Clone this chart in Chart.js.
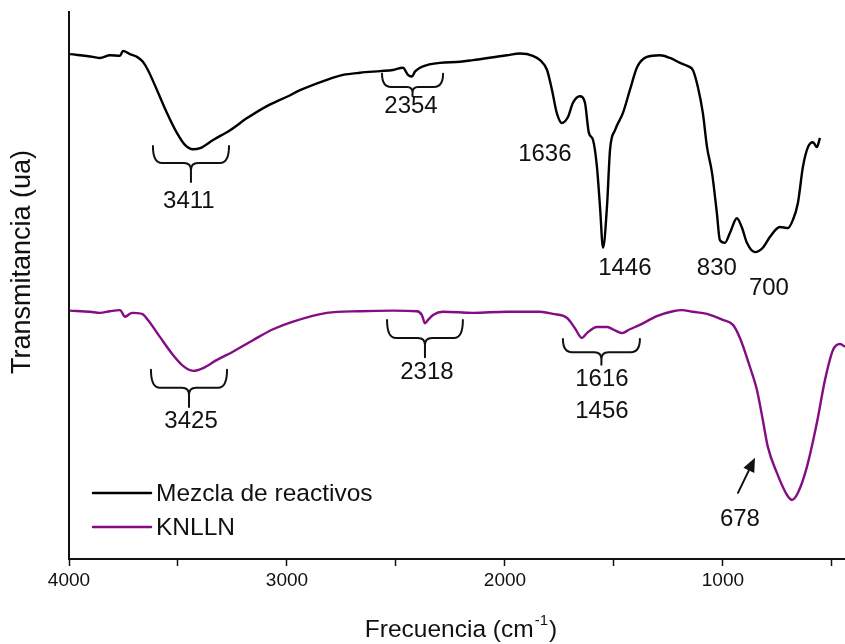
<!DOCTYPE html>
<html>
<head>
<meta charset="utf-8">
<script src="https://cdn.jsdelivr.net/npm/chart.js@4.4.1/dist/chart.umd.min.js"></script>
<style>
  html, body { margin: 0; padding: 0; background: #fff; }
  #wrap { width: 845px; height: 644px; position: relative; }
</style>
</head>
<body>
<div id="wrap"><canvas id="c"></canvas></div>
<script>
// FTIR spectra: wavenumber (cm^-1) and transmittance (arbitrary units)
const mezclaWn = [3995,3890,3858,3812,3766,3752,3720,3688,3661,3638,3596,3550,3505,3468,3431,3399,3339,3261,3183,3092,3000,2940,2817,2743,2665,2573,2514,2468,2445,2427,2413,2390,2358,2298,2206,2147,1991,1931,1872,1839,1807,1784,1762,1739,1711,1688,1656,1633,1615,1596,1578,1564,1550,1532,1518,1495,1459,1427,1394,1349,1289,1243,1197,1161,1138,1115,1092,1073,1050,1028,1014,991,968,936,913,890,853,817,784,739,702,679,656,633,610,587,569,555];
const mezclaT = [92.3,91.8,91.6,92.1,92.0,92.9,92.3,91.8,90.9,89.4,85.7,81.5,77.9,75.7,74.9,75.1,76.6,78.4,80.6,82.8,84.5,85.7,87.6,88.5,88.9,89.2,89.4,89.8,88.5,88.2,89.1,89.8,90.3,90.7,90.9,91.2,92.1,92.4,92.0,91.2,89.4,85.7,81.5,79.7,80.8,83.4,84.6,83.4,77.9,76.6,71.7,64.4,56.9,64.4,74.8,78.4,81.5,85.7,89.9,91.8,92.1,91.6,90.7,90.1,89.4,86.3,81.5,75.3,70.6,63.3,58.3,57.8,59.6,62.3,60.6,57.8,56.1,56.9,58.9,60.7,60.5,62.0,65.1,71.7,75.3,76.2,75.3,77.0];

const knllnWn = [3995,3904,3858,3812,3766,3743,3711,3665,3638,3583,3523,3477,3431,3385,3321,3248,3156,3064,2972,2817,2665,2514,2404,2381,2367,2353,2330,2284,2147,1991,1839,1780,1716,1679,1647,1624,1578,1532,1505,1463,1427,1381,1303,1229,1188,1138,1073,1000,954,922,876,844,817,794,752,706,683,656,615,569,532,495,463,440];
const knllnT = [45.4,45.2,45.0,45.3,45.5,44.3,45.0,44.8,43.7,40.6,37.3,35.3,34.4,34.9,36.4,37.9,40.0,42.0,43.4,45.0,45.3,45.4,45.3,44.6,43.1,43.7,44.6,45.2,45.0,45.2,45.2,44.8,44.1,42.2,40.4,41.3,42.4,42.4,42.0,41.3,42.0,42.8,44.4,45.3,45.5,45.2,44.8,43.7,42.8,40.4,35.1,30.9,25.4,20.5,15.7,11.7,10.8,12.1,16.8,24.9,32.7,38.2,39.3,38.8];

const seriesNames = ['Mezcla de reactivos', 'KNLLN'];
const xTickValues = [4000,3500,3000,2500,2000,1500,1000,500];
const xTickLabels = ['4000','','3000','','2000','','1000',''];

// Band assignments written next to the spectra
const bandLabels = [
  { text: '3411', wn: 3450, t: 65.3 },
  { text: '2354', wn: 2431, t: 82.8 },
  { text: '1636', wn: 1817, t: 73.9 },
  { text: '1446', wn: 1450, t: 53.2 },
  { text: '830',  wn: 1028, t: 53.2 },
  { text: '700',  wn: 789,  t: 49.5 },
  { text: '3425', wn: 3440, t: 25.2 },
  { text: '2318', wn: 2358, t: 34.2 },
  { text: '1616', wn: 1555, t: 32.9 },
  { text: '1456', wn: 1555, t: 26.9 },
  { text: '678',  wn: 922,  t: 7.3 }
];
// Curly brackets grouping a band region: ends, bar level and point
const brackets = [
  { from: 3615, to: 3266, top: 75.5, bar: 72.4, tip: 68.9 },
  { from: 2564, to: 2284, top: 88.7, bar: 86.3, tip: 84.6 },
  { from: 3624, to: 3275, top: 34.6, bar: 31.3, tip: 27.8 },
  { from: 2541, to: 2193, top: 43.7, bar: 40.4, tip: 36.9 },
  { from: 1734, to: 1381, top: 40.2, bar: 37.8, tip: 35.5 }
];
const arrow678 = { fromWn: 931, fromT: 12.1, toWn: 853, toT: 18.5 };

const FONT = "'Liberation Sans', Arial, Helvetica, sans-serif";
const INK = '#111111';

const decorations = {
  id: 'decorations',
  afterDraw(chart) {
    const { ctx, scales: { x, y }, chartArea } = chart;
    ctx.save();

    // curly brackets
    ctx.strokeStyle = INK;
    ctx.lineWidth = 2;
    ctx.lineCap = 'round';
    brackets.forEach(b => {
      const x1 = x.getPixelForValue(b.from), x2 = x.getPixelForValue(b.to);
      const xm = (x1 + x2) / 2;
      const yt = y.getPixelForValue(b.top), yb = y.getPixelForValue(b.bar), yp = y.getPixelForValue(b.tip);
      const r = Math.min(9, yb - yt);
      const r2 = Math.min(7, (yp - yb) * 0.6);
      ctx.beginPath();
      ctx.moveTo(x1, yt);
      ctx.quadraticCurveTo(x1, yb, x1 + r, yb);
      ctx.lineTo(xm - r2, yb);
      ctx.quadraticCurveTo(xm, yb, xm, yb + r2);
      ctx.lineTo(xm, yp);
      ctx.moveTo(x2, yt);
      ctx.quadraticCurveTo(x2, yb, x2 - r, yb);
      ctx.lineTo(xm + r2, yb);
      ctx.quadraticCurveTo(xm, yb, xm, yb + r2);
      ctx.stroke();
    });

    // arrow pointing at the 678 band
    const ax0 = x.getPixelForValue(arrow678.fromWn), ay0 = y.getPixelForValue(arrow678.fromT);
    const ax1 = x.getPixelForValue(arrow678.toWn), ay1 = y.getPixelForValue(arrow678.toT);
    const ang = Math.atan2(ay1 - ay0, ax1 - ax0);
    const headLen = 14, headHalf = 6;
    const bx = ax1 - headLen * Math.cos(ang), by = ay1 - headLen * Math.sin(ang);
    ctx.lineWidth = 2;
    ctx.beginPath();
    ctx.moveTo(ax0, ay0);
    ctx.lineTo(bx, by);
    ctx.stroke();
    ctx.fillStyle = INK;
    ctx.beginPath();
    ctx.moveTo(ax1, ay1);
    ctx.lineTo(bx + headHalf * Math.sin(ang), by - headHalf * Math.cos(ang));
    ctx.lineTo(bx - headHalf * Math.sin(ang), by + headHalf * Math.cos(ang));
    ctx.closePath();
    ctx.fill();

    // band labels
    ctx.font = `24px ${FONT}`;
    ctx.textAlign = 'center';
    ctx.textBaseline = 'middle';
    bandLabels.forEach(l => {
      ctx.fillText(l.text, x.getPixelForValue(l.wn), y.getPixelForValue(l.t));
    });

    // legend
    const legendRows = [493, 527];
    chart.data.datasets.forEach((ds, i) => {
      const ly = legendRows[i];
      ctx.strokeStyle = ds.borderColor;
      ctx.lineWidth = 2.5;
      ctx.beginPath();
      ctx.moveTo(chartArea.left + 24, ly);
      ctx.lineTo(chartArea.left + 82, ly);
      ctx.stroke();
      ctx.fillStyle = INK;
      ctx.textAlign = 'left';
      ctx.font = `24.5px ${FONT}`;
      ctx.fillText(ds.label, chartArea.left + 87, ly + 1);
    });

    // y axis title
    ctx.save();
    ctx.translate(23, 262);
    ctx.rotate(-Math.PI / 2);
    ctx.textAlign = 'center';
    ctx.textBaseline = 'middle';
    ctx.font = `27px ${FONT}`;
    ctx.fillText('Transmitancia (ua)', 0, 0);
    ctx.restore();

    // x axis title with superscript exponent
    const main = 'Frecuencia (cm', sup = '-1', close = ')';
    ctx.textBaseline = 'alphabetic';
    ctx.textAlign = 'left';
    ctx.font = `24.5px ${FONT}`;
    const wMain = ctx.measureText(main).width, wClose = ctx.measureText(close).width;
    ctx.font = `15px ${FONT}`;
    const wSup = ctx.measureText(sup).width;
    const total = wMain + wSup + wClose + 2;
    let tx = 461 - total / 2;
    const base = 637;
    ctx.font = `24.5px ${FONT}`;
    ctx.fillText(main, tx, base);
    tx += wMain + 1;
    ctx.font = `15px ${FONT}`;
    ctx.fillText(sup, tx, base - 12);
    tx += wSup + 1;
    ctx.font = `24.5px ${FONT}`;
    ctx.fillText(close, tx, base);

    ctx.restore();
  }
};

new Chart(document.getElementById('c'), {
  type: 'line',
  data: {
    datasets: [
      {
        label: seriesNames[0],
        data: mezclaWn.map((w, i) => ({ x: w, y: mezclaT[i] })),
        borderColor: '#000000',
        borderWidth: 2.4
      },
      {
        label: seriesNames[1],
        data: knllnWn.map((w, i) => ({ x: w, y: knllnT[i] })),
        borderColor: '#840d84',
        borderWidth: 2.4
      }
    ]
  },
  options: {
    responsive: true,
    maintainAspectRatio: false,
    animation: false,
    layout: { padding: { top: 12, right: 0, bottom: 0, left: 0 } },
    elements: {
      point: { radius: 0 },
      line: { cubicInterpolationMode: 'monotone', fill: false }
    },
    plugins: {
      legend: { display: false },
      tooltip: { enabled: false }
    },
    scales: {
      x: {
        type: 'linear',
        reverse: true,
        min: 440,
        max: 4000,
        afterBuildTicks: s => { s.ticks = xTickValues.map(v => ({ value: v })); },
        afterFit: s => { s.height = 85; },
        ticks: {
          autoSkip: false,
          maxRotation: 0,
          padding: 3,
          color: INK,
          font: { family: FONT, size: 19 },
          callback: v => { const k = xTickValues.indexOf(v); return k >= 0 ? xTickLabels[k] : ''; }
        },
        grid: { display: true, drawOnChartArea: false, drawTicks: true, tickLength: 7, tickColor: INK, tickWidth: 1.5 },
        border: { display: true, color: INK, width: 2 }
      },
      y: {
        min: 0,
        max: 100,
        afterFit: s => { s.width = 69; },
        ticks: { display: false },
        grid: { display: false, drawTicks: false },
        border: { display: true, color: INK, width: 2 }
      }
    }
  },
  plugins: [decorations]
});
</script>
</body>
</html>
